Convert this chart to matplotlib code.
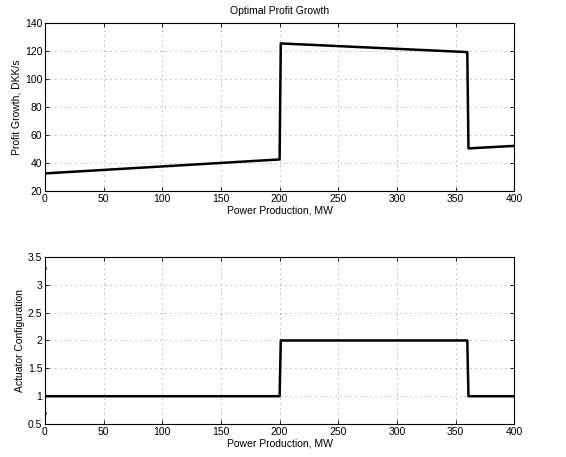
import matplotlib
matplotlib.use("Agg")
import matplotlib.pyplot as plt

plt.rcParams['font.family'] = ['Liberation Sans', 'DejaVu Sans']

# profit growth vs power production
power = [0, 200, 201, 360, 361, 400]
profit = [32.6, 42.6, 125.6, 119.4, 50.5, 52.3]

# actuator configuration
config_x = [0, 200, 201, 360, 361, 400]
config = [1, 1, 2, 2, 1, 1]

# stray points at x=0 in lower plot
dots_x = [0, 0]
dots_y = [3.3, 0.7]

xticks = [0, 50, 100, 150, 200, 250, 300, 350, 400]

fig = plt.figure(figsize=(5.66, 4.57), dpi=100)
ax1 = fig.add_axes([0.0795, 0.582, 0.829, 0.367])
ax2 = fig.add_axes([0.0795, 0.072, 0.829, 0.366])

fs = 7.5
ax1.plot(power, profit, color='black', lw=1.8)
ax1.set_xlim(0, 400)
ax1.set_ylim(20, 140)
ax1.set_yticks(range(20, 141, 20))
ax1.set_title('Optimal Profit Growth', fontsize=fs, pad=7)
ax1.set_ylabel('Profit Growth, DKK/s', fontsize=fs, labelpad=2)
ax1.set_xlabel('Power Production, MW', fontsize=fs, labelpad=1)

ax2.plot(config_x, config, color='black', lw=1.8)
ax2.plot(dots_x, dots_y, 'k.', ms=2)
ax2.set_xlim(0, 400)
ax2.set_ylim(0.5, 3.5)
ax2.set_yticks([0.5, 1, 1.5, 2, 2.5, 3, 3.5])
ax2.set_yticklabels(['0.5', '1', '1.5', '2', '2.5', '3', '3.5'])
ax2.set_ylabel('Actuator Configuration', fontsize=fs, labelpad=2)
ax2.set_xlabel('Power Production, MW', fontsize=fs, labelpad=1)

for ax in (ax1, ax2):
    ax.set_xticks(xticks)
    ax.grid(True, linestyle=(0, (1, 5)), color='black', lw=0.6, alpha=0.6)
    ax.tick_params(direction='in', top=True, right=True, labelsize=fs,
                   length=3, width=0.6, pad=2)
    for s in ax.spines.values():
        s.set_linewidth(0.8)

fig.savefig('out.png', dpi=100)
